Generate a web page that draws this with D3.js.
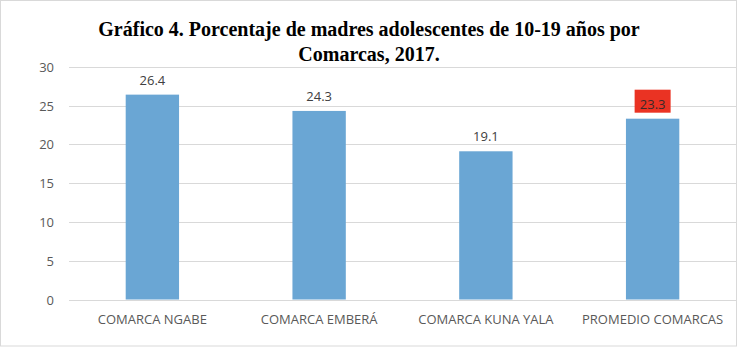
<!DOCTYPE html>
<html><head><meta charset="utf-8">
<script src="https://cdn.jsdelivr.net/npm/d3@7"></script>
<style>body{margin:0;background:#fff}svg{display:block}</style>
</head><body>
<script>
const categories = ["COMARCA NGABE", "COMARCA EMBERÁ", "COMARCA KUNA YALA", "PROMEDIO COMARCAS"];
const values = [26.4, 24.3, 19.1, 23.3];
const yTicks = [0, 5, 10, 15, 20, 25, 30];
const titleLines = ["Gráfico 4. Porcentaje de madres adolescentes de 10-19 años por", "Comarcas, 2017."];
const highlighted = ["PROMEDIO COMARCAS"];

const W = 738, H = 347;
const svg = d3.select("body").append("svg").attr("width", W).attr("height", H);
svg.append("rect").attr("x", 0.5).attr("y", 0.5).attr("width", W - 2).attr("height", H - 1.5)
  .attr("fill", "#fff").attr("stroke", "#d9d9d9");

const x = d3.scaleBand().domain(categories).range([69, 736]).paddingInner(0.68).paddingOuter(0.34);
const y = d3.scaleLinear().domain([0, 30]).range([299.5, 66.7]);

const font = "'Open Sans', sans-serif";
svg.append("g").selectAll("line").data(yTicks).join("line")
  .attr("x1", 69).attr("x2", 736).attr("y1", d => Math.round(y(d)) + 0.5).attr("y2", d => Math.round(y(d)) + 0.5)
  .attr("stroke", "#d9d9d9").attr("stroke-width", 1);

svg.append("g").selectAll("text").data(yTicks).join("text")
  .attr("x", 54).attr("y", d => y(d) + 5).attr("text-anchor", "end")
  .attr("font-family", font).attr("font-size", 13).attr("fill", "#595959").text(d => d);

svg.append("g").selectAll("rect").data(values).join("rect")
  .attr("x", (d, i) => x(categories[i])).attr("width", x.bandwidth())
  .attr("y", d => y(d)).attr("height", d => y(0) - y(d)).attr("fill", "#6aa6d4");

svg.append("g").selectAll("rect").data(values.filter((d, i) => highlighted.includes(categories[i]))).join("rect")
  .attr("x", d => x(categories[values.indexOf(d)]) + x.bandwidth() / 2 - 18)
  .attr("y", d => y(d) - 29).attr("width", 36).attr("height", 23).attr("fill", "#ea3323");

svg.append("g").selectAll("text").data(values).join("text")
  .attr("x", (d, i) => x(categories[i]) + x.bandwidth() / 2).attr("y", d => y(d) - 10)
  .attr("text-anchor", "middle").attr("font-family", font).attr("font-size", 13)
  .attr("fill", (d, i) => highlighted.includes(categories[i]) ? "#3a2a2a" : "#404040").text(d => d.toFixed(1));

svg.append("g").selectAll("text").data(categories).join("text")
  .attr("x", d => x(d) + x.bandwidth() / 2).attr("y", 324)
  .attr("text-anchor", "middle").attr("font-family", font).attr("font-size", 13)
  .attr("fill", "#595959").text(d => d);

svg.append("g").selectAll("text").data(titleLines).join("text")
  .attr("x", 369).attr("y", (d, i) => 36 + i * 25).attr("text-anchor", "middle")
  .attr("font-family", "'Liberation Serif', 'Times New Roman', serif").attr("font-weight", "bold")
  .attr("font-size", 20).attr("fill", "#000").text(d => d);
</script>
</body></html>
